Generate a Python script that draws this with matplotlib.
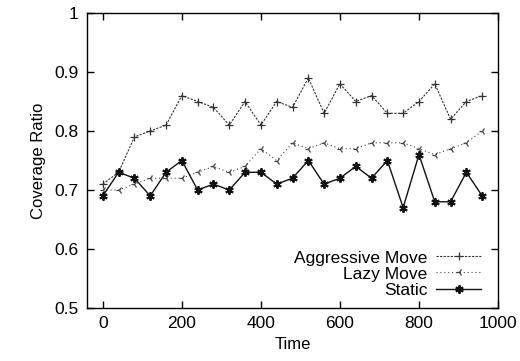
import matplotlib.pyplot as plt

plt.rcParams['font.family'] = ['Liberation Sans', 'DejaVu Sans']

time = [0, 40, 80, 120, 160, 200, 240, 280, 320, 360, 400, 440, 480,
        520, 560, 600, 640, 680, 720, 760, 800, 840, 880, 920, 960]
aggressive = [0.71, 0.73, 0.79, 0.80, 0.81, 0.86, 0.85, 0.84, 0.81, 0.85, 0.81, 0.85, 0.84,
              0.89, 0.83, 0.88, 0.85, 0.86, 0.83, 0.83, 0.85, 0.88, 0.82, 0.85, 0.86]
lazy = [0.70, 0.70, 0.71, 0.72, 0.72, 0.72, 0.73, 0.74, 0.73, 0.74, 0.77, 0.75, 0.78,
        0.77, 0.78, 0.77, 0.77, 0.78, 0.78, 0.78, 0.77, 0.76, 0.77, 0.78, 0.80]
static = [0.69, 0.73, 0.72, 0.69, 0.73, 0.75, 0.70, 0.71, 0.70, 0.73, 0.73, 0.71, 0.72,
          0.75, 0.71, 0.72, 0.74, 0.72, 0.75, 0.67, 0.76, 0.68, 0.68, 0.73, 0.69]

fig = plt.figure(figsize=(5.2, 3.61), dpi=100)
ax = fig.add_axes([87/520, 1 - 308/361, (498 - 87)/520, (308 - 13)/361])

ax.plot(time, aggressive, color="#333333", lw=0.8, ls=(0, (2, 1.2)),
        marker="+", ms=6, mew=0.9, label="Aggressive Move")
ax.plot(time, lazy, color="#444444", lw=0.8, ls=(0, (1, 2.5)),
        marker="3", ms=5, mew=0.9, label="Lazy Move")
ax.plot(time, static, color="#111111", lw=1.0, ls="-",
        marker=(6, 2, 0), ms=6, mew=1.4, label="Static")

ax.set_xlim(-40, 1000)
ax.set_ylim(0.5, 1.0)
ax.set_xticks([0, 200, 400, 600, 800, 1000])
ax.set_yticks([0.5, 0.6, 0.7, 0.8, 0.9, 1.0])
ax.set_yticklabels(["0.5", "0.6", "0.7", "0.8", "0.9", "1"])
ax.tick_params(direction="in", length=5, width=1, labelsize=12.5, pad=6,
               top=True, right=True)
for s in ax.spines.values():
    s.set_linewidth(1.0)

ax.set_xlabel("Time", fontsize=12, labelpad=4)
ax.set_ylabel("Coverage Ratio", fontsize=12, labelpad=6)

ax.legend(loc="lower right", bbox_to_anchor=(0.985, 0.0), frameon=False,
          markerfirst=False, fontsize=12.5, handlelength=2.6,
          labelspacing=0.05, handletextpad=0.5, borderaxespad=0.2)

fig.savefig("out.png", dpi=100)
